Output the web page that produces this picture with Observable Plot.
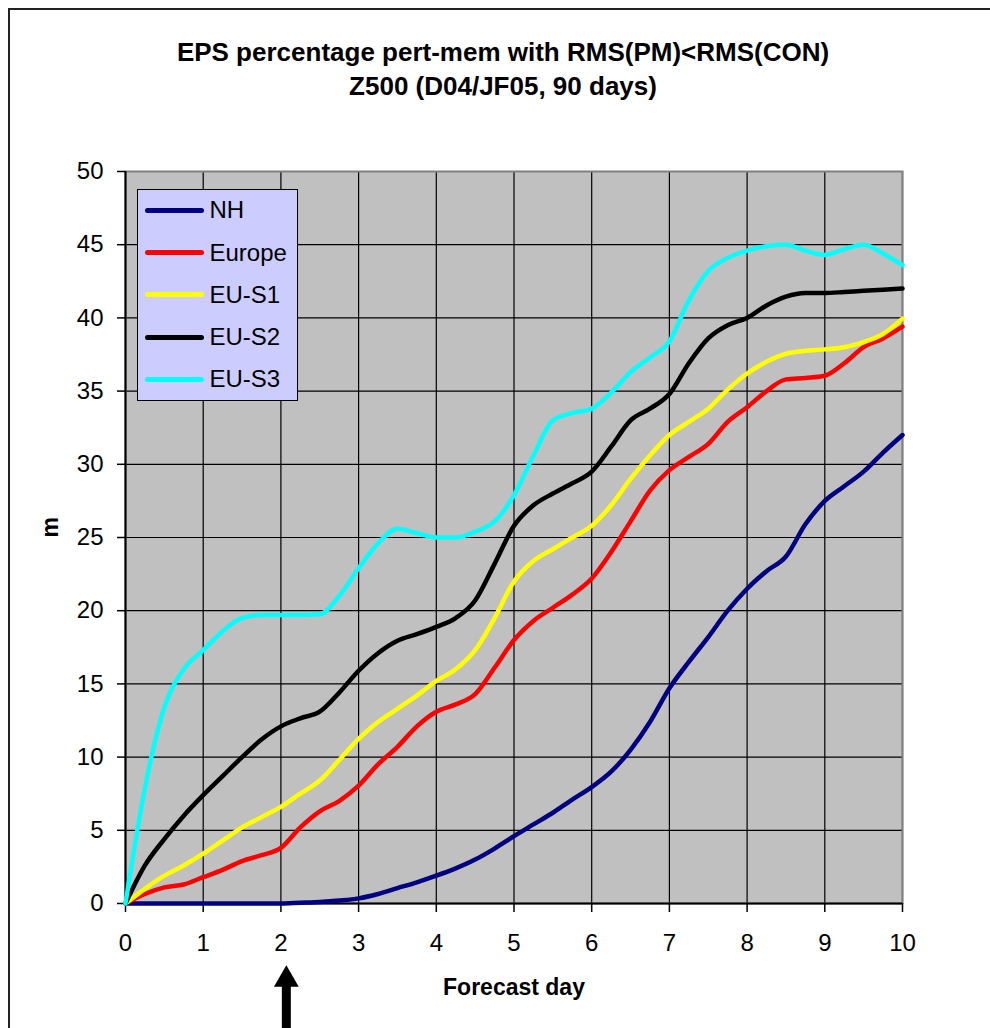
<!DOCTYPE html>
<html><head><meta charset="utf-8">
<script src="https://cdn.jsdelivr.net/npm/d3@7"></script>
<script src="https://cdn.jsdelivr.net/npm/@observablehq/plot@0.6"></script>
<style>
body{margin:0;background:#fff;font-family:"Liberation Sans",Arial,sans-serif;}
#page{position:relative;width:990px;height:1028px;overflow:hidden;}
#border{position:absolute;left:8px;top:8px;width:1100px;height:1100px;border:2px solid #222;box-sizing:border-box}
#title{position:absolute;left:8px;top:35px;width:990px;text-align:center;font-weight:bold;font-size:26px;line-height:34px;}
#chart{position:absolute;left:0;top:120px;}
#legend{position:absolute;left:137px;top:189px;width:161px;height:212px;background:#CCCCFF;border:1.5px solid #000;box-sizing:border-box}
.row{position:absolute;left:0;height:42px;display:flex;align-items:center}
.sw{width:59px;height:5px;border-radius:3px;margin-left:6.5px;margin-right:6px}
.lab{font-size:24px;color:#000}
</style></head>
<body>
<div id="page">
  <div id="border"></div>
  <div id="title">EPS percentage pert-mem with RMS(PM)&lt;RMS(CON)<br>Z500 (D04/JF05, 90 days)</div>
  <div id="chart"></div>
  <div id="legend"></div>
</div>
<script>
const days = [0,0.25,0.5,0.75,1,1.25,1.5,1.75,2,2.25,2.5,2.75,3,3.25,3.5,3.75,4,4.25,4.5,4.75,5,5.25,5.5,5.75,6,6.25,6.5,6.75,7,7.25,7.5,7.75,8,8.25,8.5,8.75,9,9.25,9.5,9.75,10];
const nh     = [0,0,0,0,0,0,0,0,0,0.05,0.1,0.2,0.35,0.65,1.05,1.45,1.9,2.4,3.0,3.75,4.6,5.4,6.2,7.1,7.95,9.0,10.5,12.4,14.7,16.5,18.2,20.0,21.5,22.7,23.7,25.9,27.5,28.5,29.5,30.8,32.0];
const europe = [0,0.65,1.1,1.3,1.8,2.3,2.9,3.3,3.8,5.2,6.3,7.0,8.05,9.5,10.7,12.1,13.1,13.6,14.3,16.1,18.0,19.3,20.2,21.1,22.2,24.0,26.1,28.2,29.6,30.5,31.4,32.9,33.9,35.0,35.8,35.9,36.05,36.9,38.0,38.6,39.4];
const euS1   = [0,1.0,1.9,2.6,3.4,4.3,5.2,5.9,6.6,7.5,8.4,9.8,11.25,12.4,13.3,14.2,15.2,16.0,17.3,19.5,22.0,23.4,24.2,25.0,25.8,27.2,29.0,30.6,32.0,32.9,33.8,35.1,36.2,37.0,37.55,37.75,37.85,38.0,38.35,38.9,39.95];
const euS2   = [0,2.6,4.4,6.0,7.4,8.7,10.0,11.2,12.1,12.65,13.1,14.4,15.9,17.1,17.95,18.4,18.9,19.5,20.7,23.2,25.8,27.2,28.0,28.7,29.5,31.2,33.0,33.8,34.8,36.9,38.6,39.5,40.0,40.85,41.45,41.7,41.7,41.77,41.85,41.92,42.0];
const euS3   = [0,7.9,13.4,16.0,17.3,18.6,19.5,19.7,19.7,19.7,19.75,21.0,22.9,24.6,25.6,25.3,25.0,25.0,25.4,26.1,27.9,30.6,33.0,33.5,33.8,34.9,36.3,37.3,38.4,41.2,43.2,44.1,44.6,44.9,45.0,44.6,44.3,44.7,45.0,44.4,43.6];
const seriesNames = ["NH","Europe","EU-S1","EU-S2","EU-S3"];
const seriesColors = ["#000080","#FF0000","#FFFF00","#000000","#00FFFF"];
const xTicks = [0,1,2,3,4,5,6,7,8,9,10];
const yTicks = [0,5,10,15,20,25,30,35,40,45,50];
const arrowDay = [2.07];

const allSeries = [nh, europe, euS1, euS2, euS3];
const rows = [];
allSeries.forEach((vals, si) => vals.forEach((v, i) => rows.push({day: days[i], value: v, series: seriesNames[si]})));

const font = '"Liberation Sans", Arial, sans-serif';
const chart = Plot.plot({
  width: 990,
  height: 908,
  marginLeft: 125,
  marginRight: 88,
  marginTop: 51,
  marginBottom: 125,
  style: {fontFamily: font, fontSize: "24px", color: "#000", background: "transparent", overflow: "visible"},
  x: {domain: [0, 10]},
  y: {domain: [0, 50]},
  color: {domain: seriesNames, range: seriesColors},
  marks: [
    Plot.frame({fill: "#C0C0C0", stroke: null}),
    Plot.gridX(xTicks, {stroke: "#000", strokeOpacity: 1, strokeWidth: 1.2}),
    Plot.gridY(yTicks, {stroke: "#000", strokeOpacity: 1, strokeWidth: 1.2}),
    Plot.frame({stroke: "#808080", strokeWidth: 2}),
    Plot.ruleX([0], {stroke: "#000", strokeWidth: 2}),
    Plot.ruleY([0], {stroke: "#000", strokeWidth: 2}),
    Plot.axisX(xTicks, {tickSize: 9, tickPadding: 21, strokeWidth: 1.5, label: null, fontSize: 24}),
    Plot.axisY(yTicks, {tickSize: 8, tickPadding: 14, strokeWidth: 1.5, label: null, fontSize: 24}),
    Plot.line(rows, {x: "day", y: "value", z: "series", stroke: "series", strokeWidth: 4.5, curve: "monotone-x", strokeLinejoin: "round", strokeLinecap: "round"}),
    Plot.text(["Forecast day"], {frameAnchor: "bottom", dy: 84, text: d => d, fontWeight: "bold", fontSize: 23, lineAnchor: "middle"}),
    Plot.text(["m"], {frameAnchor: "left", dx: -75, rotate: -90, text: d => d, fontWeight: "bold", fontSize: 23, lineAnchor: "middle"}),
    Plot.ruleX(arrowDay, {y1: -8.8, y2: -5.6, stroke: "#000", strokeWidth: 9}),
    Plot.dot(arrowDay, {x: d => d, y: -5.2, symbol: "triangle", r: 9.2, fill: "#000", stroke: null})
  ]
});
document.getElementById("chart").appendChild(chart);

const legend = document.getElementById("legend");
seriesNames.forEach((name, i) => {
  const row = document.createElement("div");
  row.className = "row";
  row.style.top = (20.2 + i * 42.3 - 21) + "px";
  const sw = document.createElement("div");
  sw.className = "sw";
  sw.style.background = seriesColors[i];
  const lab = document.createElement("span");
  lab.className = "lab";
  lab.textContent = name;
  row.appendChild(sw); row.appendChild(lab);
  legend.appendChild(row);
});
</script>
</body></html>
